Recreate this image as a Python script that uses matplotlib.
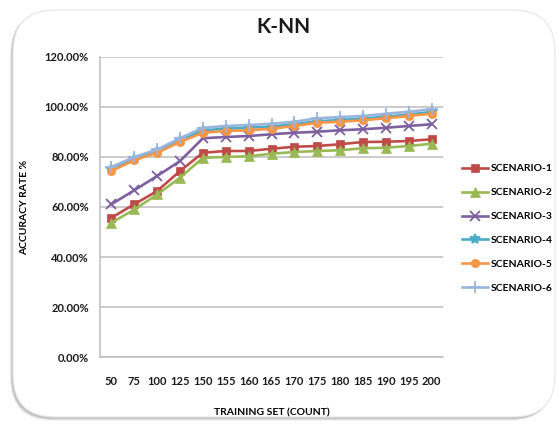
import matplotlib
matplotlib.use("Agg")
import matplotlib.pyplot as plt
from matplotlib.patches import FancyBboxPatch
from matplotlib.ticker import PercentFormatter

plt.rcParams['font.family'] = ['Lato', 'DejaVu Sans']

# Training-set sizes (categories on the x axis)
training_sizes = ['50', '75', '100', '125', '150', '155', '160', '165',
                  '170', '175', '180', '185', '190', '195', '200']

# Accuracy rate (%) per scenario
scenario_1 = [55.7, 61.1, 66.4, 74.4, 81.7, 82.4, 82.4, 83.3, 84.1, 84.4, 85.1, 86.0, 86.1, 86.4, 87.1]
scenario_2 = [53.7, 59.0, 65.0, 71.7, 79.7, 80.0, 80.3, 81.3, 82.0, 82.4, 82.7, 83.5, 83.7, 84.4, 85.3]
scenario_3 = [61.1, 66.7, 72.4, 78.4, 87.5, 88.0, 88.4, 89.1, 89.7, 90.1, 90.7, 91.1, 91.7, 92.4, 93.1]
scenario_4 = [75.2, 79.3, 82.4, 86.7, 90.7, 91.3, 91.7, 92.2, 93.1, 94.3, 94.8, 95.4, 96.1, 97.0, 98.0]
scenario_5 = [74.4, 78.7, 81.7, 86.0, 89.7, 90.4, 90.7, 91.3, 92.4, 93.7, 94.1, 94.7, 95.5, 96.4, 97.3]
scenario_6 = [76.0, 80.0, 83.0, 87.5, 91.7, 92.4, 92.8, 93.3, 94.1, 95.5, 96.0, 96.4, 97.3, 98.1, 99.1]

labels = ['SCENARIO-1', 'SCENARIO-2', 'SCENARIO-3', 'SCENARIO-4', 'SCENARIO-5', 'SCENARIO-6']
series = [scenario_1, scenario_2, scenario_3, scenario_4, scenario_5, scenario_6]
colors = ['#BE4B48', '#98B954', '#7D60A0', '#4BACC6', '#F79646', '#9AB5DD']
markers = ['s', '^', 'x', '*', 'o', '+']
msizes = [6, 6.5, 7, 7, 6, 9]

W, H = 558, 425
fig = plt.figure(figsize=(W / 100, H / 100), dpi=100)
fig.patch.set_facecolor('white')

# Rounded chart frame with a soft shadow
bg = fig.add_axes([0, 0, 1, 1])
bg.set_xlim(0, W)
bg.set_ylim(0, H)
bg.axis('off')
for off, a in [(5, 0.06), (4, 0.08), (3, 0.12), (2, 0.16), (1, 0.2)]:
    bg.add_patch(FancyBboxPatch((12 - off * 0.4, 7 - off * 0.6), 542, 408,
                                boxstyle="round,pad=0,rounding_size=42",
                                facecolor='#808080', edgecolor='none', alpha=a))
bg.add_patch(FancyBboxPatch((13, 8), 542, 407,
                            boxstyle="round,pad=0,rounding_size=42",
                            facecolor='white', edgecolor='#E6E6E6', linewidth=0.8))

ax = fig.add_axes([100 / W, (H - 357) / H, 343 / W, 300 / H])
ax.set_facecolor('none')
x = range(len(training_sizes))
for vals, lab, c, m, ms in zip(series, labels, colors, markers, msizes):
    mew = 1.3 if m in ('x', '+', '*') else 0.5
    ax.plot(x, [v / 100 for v in vals], color=c, linewidth=1.9, marker=m,
            markersize=ms, markeredgewidth=mew, markeredgecolor=c, label=lab)

ax.set_xlim(-0.5, len(training_sizes) - 0.5)
ax.set_ylim(0, 1.2)
ax.set_yticks([0, 0.2, 0.4, 0.6, 0.8, 1.0, 1.2])
ax.yaxis.set_major_formatter(PercentFormatter(1.0, decimals=2))
ax.set_xticks(list(x))
ax.set_xticklabels(training_sizes)
ax.grid(axis='y', color='#BDBDBD', linewidth=1.1)
ax.set_axisbelow(True)
for s in ['top', 'right']:
    ax.spines[s].set_visible(False)
for s in ['left', 'bottom']:
    ax.spines[s].set_color('#BDBDBD')
    ax.spines[s].set_linewidth(1.1)
ax.tick_params(axis='both', length=0, colors='#1a1a1a', labelsize=8)
ax.tick_params(axis='y', pad=8)
ax.tick_params(axis='x', pad=14)
for t in ax.get_xticklabels() + ax.get_yticklabels():
    t.set_fontweight('bold')

ax.set_xlabel('TRAINING SET (COUNT)', fontsize=7.5, fontweight='bold', labelpad=15)
ax.set_ylabel('ACCURACY RATE %', fontsize=7.5, fontweight='bold', labelpad=11)
fig.text(283 / W, 1 - 27 / H, 'K-NN', ha='center', va='center',
         fontsize=15, fontweight='bold', color='#1a1a1a')

leg = fig.legend(loc='upper left', bbox_to_anchor=(458 / W, 1 - 160 / H),
                 frameon=False, fontsize=7.5, handlelength=2.5, handletextpad=0.2,
                 labelspacing=1.4, borderaxespad=0)
for t in leg.get_texts():
    t.set_fontweight('bold')

fig.savefig('out.png', dpi=100, facecolor='white')
